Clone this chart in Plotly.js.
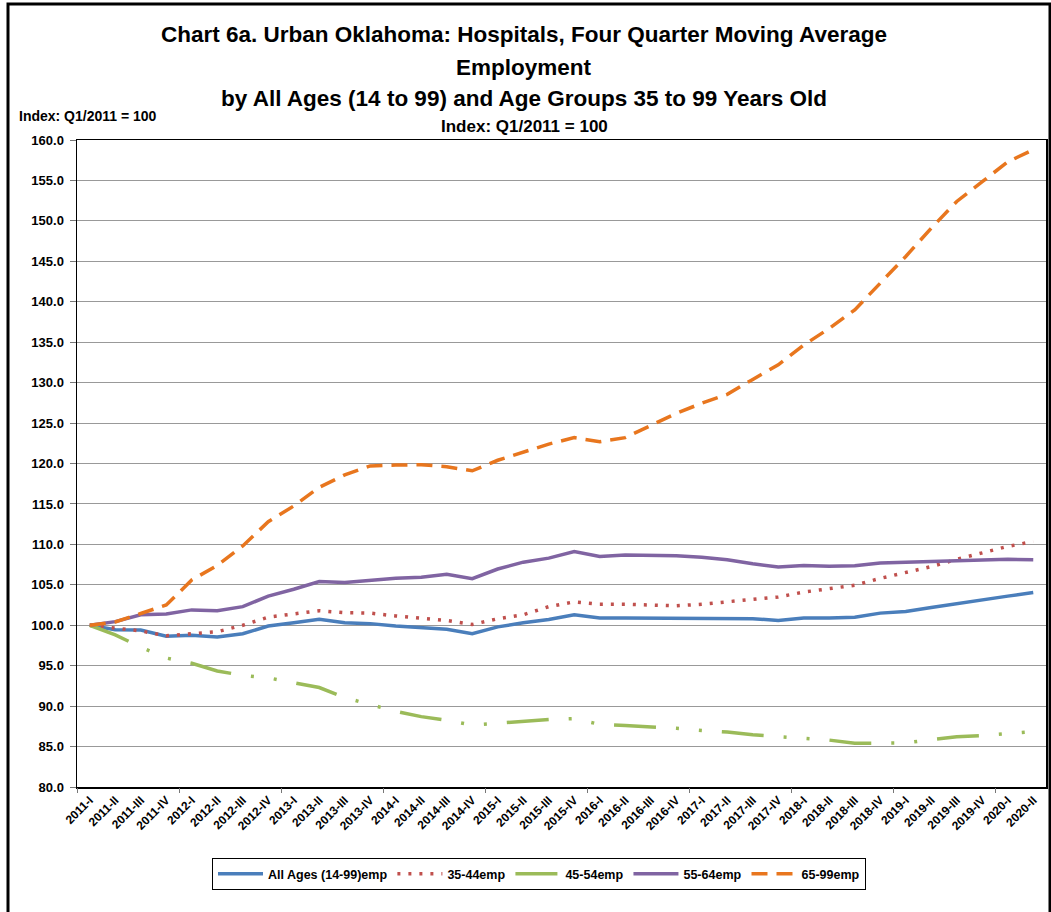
<!DOCTYPE html>
<html><head><meta charset="utf-8">
<script src="https://cdn.plot.ly/plotly-3.0.1.min.js"></script>
<style>html,body{margin:0;padding:0;background:#fff}</style>
</head><body>
<div id="chart" style="width:1051px;height:912px"></div>
<script>
const quarters = ["2011-I","2011-II","2011-III","2011-IV","2012-I","2012-II","2012-III","2012-IV",
  "2013-I","2013-II","2013-III","2013-IV","2014-I","2014-II","2014-III","2014-IV",
  "2015-I","2015-II","2015-III","2015-IV","2016-I","2016-II","2016-III","2016-IV",
  "2017-I","2017-II","2017-III","2017-IV","2018-I","2018-II","2018-III","2018-IV",
  "2019-I","2019-II","2019-III","2019-IV","2020-I","2020-II"];

const allAges = [100.0,99.45,99.4,98.65,98.75,98.55,98.95,99.9,100.3,100.75,100.3,100.2,
  99.9,99.65,99.5,98.95,99.8,100.3,100.7,101.3,100.9,100.9,100.9,100.9,100.9,100.9,100.8,
  100.6,100.9,100.9,101.0,101.5,101.7,102.2,102.7,103.1,103.6,104.05];

const age35_44 = [100.0,99.6,99.3,98.7,99.0,99.2,100.0,101.0,101.4,101.8,101.55,101.5,
  101.15,100.9,100.6,100.1,100.8,101.3,102.3,102.9,102.6,102.6,102.45,102.4,102.6,102.9,
  103.2,103.5,104.1,104.5,104.95,105.8,106.5,107.25,108.15,108.9,109.75,110.35];

const age45_54 = [100.0,98.8,97.3,95.95,95.3,94.35,93.8,93.5,92.9,92.3,91.05,90.15,
  89.35,88.7,88.25,87.65,87.9,88.1,88.35,88.45,87.75,87.6,87.45,87.25,87.0,86.8,86.45,
  86.2,85.95,85.8,85.4,85.45,85.45,85.85,86.2,86.35,86.6,86.85];

const age55_64 = [100.0,100.45,101.3,101.4,101.9,101.8,102.3,103.6,104.45,105.4,105.3,105.6,
  105.8,105.95,106.3,105.75,106.95,107.8,108.3,109.1,108.5,108.7,108.7,108.6,108.4,108.1,
  107.6,107.2,107.4,107.3,107.35,107.7,107.8,107.9,108.0,108.1,108.15,108.1];

const age65_99 = [100.0,100.4,101.45,102.5,105.6,107.4,109.8,112.8,114.75,117.05,118.6,119.7,
  119.8,119.85,119.6,119.1,120.4,121.45,122.4,123.2,122.7,123.2,124.75,126.2,127.45,128.55,
  130.4,132.2,134.65,136.7,139.0,142.3,145.6,149.1,152.4,154.85,157.3,158.8];

const seriesNames = ["All Ages (14-99)emp","35-44emp","45-54emp","55-64emp","65-99emp"];
const yTicks = [80,85,90,95,100,105,110,115,120,125,130,135,140,145,150,155,160];
const boundaryTicks = [-0.5,3.5,7.5,11.5,15.5,19.5,23.5,27.5,31.5,35.5];

const FONT = "Liberation Sans, Arial, sans-serif";

const traces = [
  {x: quarters, y: allAges, name: seriesNames[0], mode: "lines",
   line: {color: "#4A7EBB", width: 3.5}},
  {x: quarters, y: age35_44, name: seriesNames[1], mode: "lines",
   line: {color: "#C0504D", width: 3.5, dash: "3px,8px"}},
  {x: quarters, y: age45_54, name: seriesNames[2], mode: "lines",
   line: {color: "#9BBB59", width: 3.5, dash: "42px,20px,3px,20px,3px,20px"}},
  {x: quarters, y: age55_64, name: seriesNames[3], mode: "lines",
   line: {color: "#8064A2", width: 3.5}},
  {x: quarters, y: age65_99, name: seriesNames[4], mode: "lines",
   line: {color: "#E8761E", width: 3.5, dash: "16px,9px"}},
  {x: [boundaryTicks[0]], y: [null], xaxis: "x2", yaxis: "y", mode: "lines",
   showlegend: false, hoverinfo: "skip"}
];

const W = 1051, H = 912;
const L = 77, R = 1046, T = 140, B = 787;
const px = v => (v - L) / (R - L);
const py = v => (B - v) / (B - T);

const layout = {
  width: W, height: H,
  margin: {l: L, r: W - R, t: T, b: H - B},
  paper_bgcolor: "#fff", plot_bgcolor: "#fff",
  font: {family: FONT, color: "#000"},
  title: {
    text: "<b>Chart 6a. Urban Oklahoma: Hospitals, Four Quarter Moving Average</b>",
    font: {size: 22.5, family: FONT, color: "#000"},
    xref: "paper", x: px(524), xanchor: "center",
    yref: "container", y: 1 - 34 / H, yanchor: "middle"
  },
  annotations: [
    {text: "<b>Employment</b>", xref: "paper", yref: "paper", x: px(524), y: py(67),
     xanchor: "center", yanchor: "middle", showarrow: false, font: {size: 22.5}},
    {text: "<b>by All Ages (14 to 99) and Age Groups 35 to 99 Years Old</b>", xref: "paper", yref: "paper",
     x: px(524), y: py(98), xanchor: "center", yanchor: "middle", showarrow: false, font: {size: 22.5}},
    {text: "<b>Index: Q1/2011 = 100</b>", xref: "paper", yref: "paper", x: px(524), y: py(126),
     xanchor: "center", yanchor: "middle", showarrow: false, font: {size: 17}},
    {text: "<b>Index: Q1/2011 = 100</b>", xref: "paper", yref: "paper", x: px(17), y: py(116),
     xanchor: "left", yanchor: "middle", showarrow: false, font: {size: 14}}
  ],
  xaxis: {
    type: "category", range: [-0.5, 37.5],
    tickmode: "array", tickvals: quarters, ticktext: quarters,
    tickangle: -45, tickfont: {size: 12, family: FONT, weight: "bold"},
    ticks: "", showgrid: false,
    showline: true, linecolor: "#000", linewidth: 1.5, mirror: true,
    zeroline: false
  },
  xaxis2: {
    overlaying: "x", anchor: "y", range: [-0.5, 37.5], type: "linear",
    tickmode: "array", tickvals: boundaryTicks, showticklabels: false,
    ticks: "outside", ticklen: 5, tickcolor: "#777", tickwidth: 1,
    showgrid: false, showline: false, zeroline: false
  },
  yaxis: {
    range: [80, 160], tickmode: "array", tickvals: yTicks,
    tickformat: ".1f", tickfont: {size: 13, family: FONT, weight: "bold"},
    ticks: "outside", ticklen: 6, tickcolor: "#777", ticklabelstandoff: 3,
    showgrid: true, gridcolor: "#999", gridwidth: 1,
    showline: true, linecolor: "#000", linewidth: 1.5, mirror: true,
    zeroline: false
  },
  showlegend: true,
  legend: {
    orientation: "h", xref: "paper", yref: "paper",
    x: px(212), xanchor: "left", y: py(858), yanchor: "top",
    bordercolor: "#000", borderwidth: 1, bgcolor: "#fff",
    itemwidth: 45,
    font: {size: 12.5, family: FONT, weight: "bold"}, traceorder: "normal"
  },
  shapes: [
    {type: "rect", xref: "paper", yref: "paper", x0: px(8), x1: px(1050), y0: py(920), y1: py(4),
     line: {color: "#000", width: 3}, fillcolor: "rgba(0,0,0,0)", layer: "above"}
  ]
};

Plotly.newPlot("chart", traces, layout, {displayModeBar: false, staticPlot: true});
</script>
</body></html>
